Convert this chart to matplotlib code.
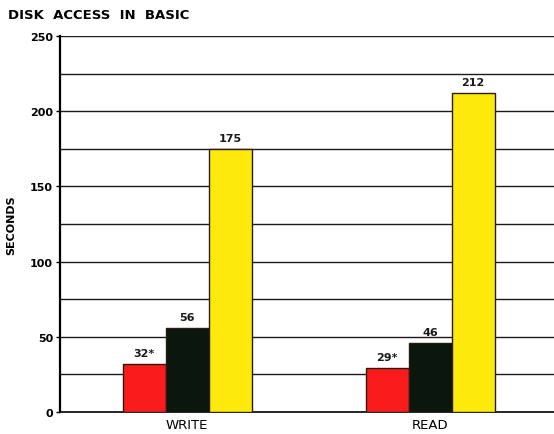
import matplotlib
matplotlib.use("Agg")
import matplotlib.pyplot as plt
import numpy as np

# Data
categories = ["WRITE", "READ"]
red_vals = [32, 29]
black_vals = [56, 46]
yellow_vals = [175, 212]
red_labels = ["32*", "29*"]
black_labels = ["56", "46"]
yellow_labels = ["175", "212"]
y_ticks = [0, 50, 100, 150, 200, 250]

plt.rcParams['font.family'] = ['DejaVu Sans']

fig = plt.figure(figsize=(5.54, 4.35), dpi=100)
ax = fig.add_axes([0.1083, 0.0506, 0.8917, 0.8644])

x = np.arange(len(categories))
w = 0.177
series = [
    (red_vals, red_labels, "#fa1c1c", -w),
    (black_vals, black_labels, "#0b160d", 0.0),
    (yellow_vals, yellow_labels, "#fde90c", w),
]

# Grid lines every 25 s
for g in range(25, 251, 25):
    ax.axhline(g, color="#1a1a1a", lw=1.0, zorder=1)

for vals, labels, color, off in series:
    bars = ax.bar(x + off, vals, width=w, color=color, edgecolor="#2a1a10",
                  linewidth=1.0, zorder=3)
    for b, lab in zip(bars, labels):
        ax.text(b.get_x() + b.get_width() / 2, b.get_height() + 4, lab,
                ha="center", va="bottom", fontsize=8, fontweight="bold",
                color="#1a1a1a", zorder=4)

ax.set_xlim(-0.523, 1.51)
ax.set_ylim(0, 250)
ax.set_xticks(x)
ax.set_xticklabels(categories, fontsize=9.5)
ax.tick_params(axis="x", length=0, pad=4)
ax.set_yticks(y_ticks)
ax.set_yticklabels([str(t) for t in y_ticks], fontsize=8, fontweight="bold")
ax.tick_params(axis="y", length=3, width=1, pad=2)

for s in ["top", "right"]:
    ax.spines[s].set_visible(False)
ax.spines["left"].set_linewidth(1.6)
ax.spines["bottom"].set_linewidth(1.2)

ax.set_ylabel("SECONDS", fontsize=8, fontweight="bold", labelpad=10)
fig.text(0.015, 0.965, "DISK  ACCESS  IN  BASIC", fontsize=9.5, fontweight="bold",
         ha="left", va="center")

fig.savefig("out.png", dpi=100)
